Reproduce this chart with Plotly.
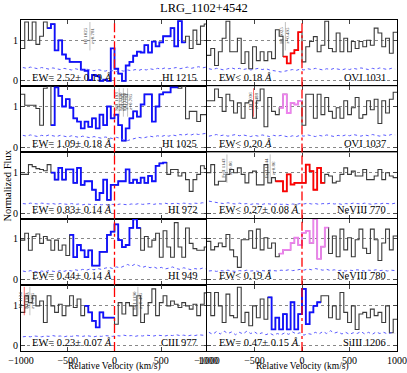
import numpy as np
import plotly.graph_objects as go


W, H = 407, 373
FONT = "Liberation Serif"

BLUE = "#1010ff"
RED = "#ff0000"
PINK = "#ee82ee"
SPEC = "#3a3a3a"
ERRC = "#5a5aff"

TITLE = "LRG_1102+4542"

# velocity bins (km/s)
BIN_WIDTH = 40
VEL_EDGES = np.arange(-1000, 1001, BIN_WIDTH)
VEL_CENTERS = VEL_EDGES[:-1] + BIN_WIDTH / 2

ions = ["HI 1215", "HI 1025", "HI 972", "HI 949", "CIII 977",
        "OVI 1031", "OVI 1037", "NeVIII 770", "NeVIII 780", "SiIII 1206"]

ew_labels = ["EW= 2.52± 0.19 <i>Å</i>", "EW= 1.09± 0.18 <i>Å</i>",
             "EW= 0.83± 0.14 <i>Å</i>", "EW= 0.44± 0.14 <i>Å</i>",
             "EW= 0.23± 0.07 <i>Å</i>", "EW< 0.18 <i>Å</i>",
             "EW< 0.20 <i>Å</i>", "EW< 0.27± 0.08 <i>Å</i>",
             "EW< 0.19 <i>Å</i>", "EW= 0.47± 0.15 <i>Å</i>"]

# velocity window of the highlighted component
comp_lo = [-710, -680, -690, -460, -333, -193, -228, -263, -235, -351]
comp_hi = [740, 690, 545, 294, -15, -18, -18, 245, 291, 210]
comp_colors = [BLUE, BLUE, BLUE, BLUE, BLUE, RED, PINK, RED, PINK, BLUE]

flux_hi1215 = [0.80, 1.45, 1.00, 1.45, 0.90, 1.10, 1.45, 1.30, 1.40, 0.75,
               1.00, 0.65, 0.55, 0.47, 0.47, 0.47, 0.28, 0.25, 0.02, 0.15,
               0.12, 0.00, 0.03, 0.00, 0.80, 0.30, 0.18, 0.00, 0.38, 0.47,
               0.62, 0.72, 0.70, 0.88, 0.70, 0.97, 0.85, 0.95, 1.10, 1.10,
               1.30, 0.85, 1.47, 0.95, 1.10, 0.80, 1.25, 0.90, 1.35, 1.40]
flux_hi1025 = [1.30, 1.03, 1.03, 1.03, 0.95, 0.54, 1.45, 1.50, 0.54, 1.47,
               1.26, 1.00, 1.18, 0.97, 0.71, 0.63, 0.46, 0.63, 0.50, 0.71,
               0.46, 0.80, 0.54, 1.00, 0.71, 0.80, 0.54, 0.16, 0.46, 0.71,
               0.88, 0.75, 1.05, 1.30, 1.30, 0.63, 1.00, 1.30, 1.35, 1.35,
               1.47, 1.47, 1.45, 1.50, 0.70, 0.88, 0.88, 0.63, 0.80, 0.80]
flux_hi972 = [0.96, 0.96, 1.20, 1.15, 1.10, 1.08, 1.05, 1.20, 1.00, 0.83,
              1.12, 0.83, 1.08, 1.08, 0.75, 1.12, 0.70, 0.79, 0.79, 0.58,
              0.33, 0.50, 0.83, 0.33, 0.70, 0.70, 0.79, 0.79, 1.08, 0.75,
              0.83, 0.75, 0.88, 0.75, 0.92, 0.79, 1.17, 1.23, 1.25, 0.96,
              1.08, 1.08, 0.92, 1.00, 0.83, 0.54, 0.83, 0.96, 1.17, 1.10]
flux_hi949 = [0.97, 1.14, 0.72, 1.06, 1.12, 0.89, 1.06, 0.97, 0.72, 0.97,
              0.72, 0.85, 0.59, 1.10, 0.55, 0.85, 0.72, 0.55, 0.72, 0.34,
              0.34, 0.68, 0.68, 1.10, 1.18, 1.36, 0.97, 0.80, 0.85, 1.27,
              1.48, 1.27, 0.72, 1.06, 0.80, 0.97, 1.14, 0.55, 1.20, 0.80,
              0.55, 1.40, 0.80, 0.55, 1.27, 0.89, 0.76, 0.72, 0.72, 0.80]
flux_ciii977 = [0.82, 1.23, 1.06, 1.23, 0.98, 1.10, 0.57, 1.23, 0.98, 0.82,
                1.02, 0.74, 0.98, 1.23, 0.94, 1.15, 0.74, 0.98, 0.82, 0.61,
                0.45, 0.82, 0.69, 0.69, 0.69, 0.53, 1.06, 0.78, 1.06, 0.98,
                0.74, 1.23, 0.57, 0.78, 1.06, 1.40, 0.74, 1.06, 1.23, 0.98,
                1.10, 1.02, 0.94, 1.06, 0.98, 0.90, 1.02, 0.74, 1.02, 1.30]
flux_ovi1031 = [0.63, 0.80, 0.38, 0.72, 1.05, 1.47, 0.72, 0.72, 1.05, 0.43,
                0.72, 0.30, 0.84, 0.50, 0.72, 0.50, 0.72, 0.55, 1.26, 1.10,
                0.60, 0.43, 0.68, 0.76, 1.20, 0.47, 0.84, 0.97, 1.09, 0.72,
                0.88, 1.47, 0.80, 0.72, 1.18, 0.72, 1.05, 0.72, 0.97, 0.80,
                0.97, 0.84, 1.00, 0.88, 1.30, 1.18, 0.84, 1.05, 0.68, 1.20]
flux_ovi1037 = [1.14, 1.14, 1.43, 1.22, 0.88, 1.30, 1.14, 0.84, 1.09, 0.71,
                1.09, 1.14, 0.71, 1.14, 1.43, 0.50, 1.22, 0.88, 0.80, 0.97,
                1.30, 0.84, 1.09, 1.05, 1.14, 0.54, 1.30, 1.30, 0.71, 1.30,
                0.80, 1.22, 0.88, 0.71, 0.97, 0.71, 1.14, 0.80, 0.97, 1.22,
                0.71, 0.80, 1.14, 0.92, 1.18, 0.58, 1.14, 0.84, 1.18, 1.35]
flux_neviii770 = [1.00, 1.20, 0.70, 0.79, 0.79, 0.96, 1.08, 1.00, 1.12, 0.96,
                  0.75, 1.00, 1.04, 0.70, 0.70, 1.20, 0.75, 0.88, 0.79, 0.79,
                  0.54, 0.96, 0.71, 0.75, 0.75, 0.75, 1.20, 1.04, 0.58, 1.12,
                  0.75, 0.96, 0.92, 0.75, 0.79, 0.96, 1.12, 0.96, 1.04, 0.92,
                  0.92, 1.08, 0.83, 0.83, 0.92, 1.08, 0.83, 1.00, 0.92, 0.88]
flux_neviii780 = [0.94, 0.73, 0.81, 0.90, 0.81, 1.11, 0.73, 0.56, 0.30, 0.98,
                  0.98, 1.20, 0.77, 1.24, 0.73, 1.03, 0.77, 0.90, 0.56, 0.64,
                  0.73, 0.73, 0.90, 1.03, 0.85, 1.15, 1.20, 0.90, 1.50, 0.51,
                  0.81, 1.28, 0.64, 1.07, 0.56, 1.24, 0.73, 1.03, 0.56, 0.98,
                  1.24, 0.77, 0.64, 1.24, 0.98, 0.47, 0.90, 1.24, 0.73, 1.07]
flux_siiii1206 = [1.31, 0.74, 1.31, 0.98, 0.57, 1.27, 0.74, 0.69, 1.44, 0.57,
                  0.82, 0.49, 0.98, 0.69, 1.15, 0.65, 1.19, 0.40, 0.69, 0.40,
                  0.78, 0.40, 1.07, 0.40, 0.78, 1.40, 0.53, 0.82, 0.98, 1.07,
                  1.23, 1.23, 0.69, 0.98, 0.65, 1.31, 0.82, 0.57, 0.98, 0.40,
                  0.78, 0.82, 0.69, 0.90, 0.74, 0.82, 0.57, 0.98, 0.32, 0.65]

err_hi1215 = [0.33, 0.31, 0.34, 0.32, 0.30, 0.33, 0.31, 0.29, 0.32, 0.30,
              0.28, 0.31, 0.29, 0.27, 0.30, 0.28, 0.26, 0.29, 0.27, 0.25,
              0.28, 0.26, 0.24, 0.27, 0.25, 0.23, 0.26, 0.24, 0.27, 0.25,
              0.28, 0.26, 0.29, 0.27, 0.30, 0.28, 0.31, 0.29, 0.32, 0.30,
              0.31, 0.33, 0.30, 0.32, 0.34, 0.31, 0.33, 0.35, 0.32, 0.34]
err_hi1025 = [0.29, 0.27, 0.30, 0.28, 0.26, 0.29, 0.27, 0.30, 0.28, 0.26,
              0.29, 0.27, 0.25, 0.28, 0.26, 0.24, 0.27, 0.25, 0.23, 0.26,
              0.24, 0.22, 0.25, 0.23, 0.21, 0.24, 0.22, 0.17, 0.16, 0.19,
              0.21, 0.24, 0.22, 0.25, 0.27, 0.25, 0.28, 0.26, 0.29, 0.27,
              0.30, 0.28, 0.31, 0.29, 0.32, 0.30, 0.33, 0.31, 0.32, 0.34]
err_hi972 = [0.24, 0.23, 0.25, 0.24, 0.23, 0.25, 0.24, 0.23, 0.24, 0.22,
             0.24, 0.23, 0.22, 0.24, 0.22, 0.23, 0.21, 0.23, 0.22, 0.21,
             0.22, 0.21, 0.22, 0.20, 0.22, 0.21, 0.23, 0.22, 0.21, 0.23,
             0.22, 0.24, 0.22, 0.23, 0.24, 0.22, 0.24, 0.23, 0.25, 0.23,
             0.24, 0.25, 0.23, 0.25, 0.24, 0.23, 0.25, 0.24, 0.26, 0.25]
err_hi949 = [0.21, 0.19, 0.22, 0.20, 0.18, 0.21, 0.19, 0.22, 0.20, 0.19,
             0.22, 0.20, 0.23, 0.21, 0.24, 0.22, 0.25, 0.23, 0.26, 0.24,
             0.27, 0.25, 0.28, 0.30, 0.27, 0.31, 0.29, 0.34, 0.37, 0.33,
             0.38, 0.34, 0.30, 0.33, 0.29, 0.31, 0.27, 0.30, 0.26, 0.28,
             0.31, 0.27, 0.25, 0.29, 0.26, 0.24, 0.27, 0.25, 0.28, 0.26]
err_ciii977 = [0.22, 0.23, 0.22, 0.24, 0.23, 0.22, 0.24, 0.23, 0.25, 0.23,
               0.24, 0.22, 0.24, 0.23, 0.25, 0.24, 0.23, 0.25, 0.24, 0.22,
               0.24, 0.23, 0.25, 0.24, 0.23, 0.25, 0.24, 0.26, 0.24, 0.25,
               0.23, 0.25, 0.24, 0.26, 0.25, 0.24, 0.26, 0.25, 0.24, 0.26,
               0.25, 0.27, 0.25, 0.26, 0.24, 0.26, 0.25, 0.27, 0.26, 0.25]
err_ovi1031 = [0.30, 0.28, 0.31, 0.29, 0.27, 0.30, 0.32, 0.29, 0.31, 0.28,
               0.30, 0.27, 0.29, 0.31, 0.28, 0.30, 0.27, 0.25, 0.23, 0.22,
               0.24, 0.26, 0.28, 0.26, 0.29, 0.27, 0.30, 0.28, 0.31, 0.29,
               0.27, 0.30, 0.28, 0.31, 0.29, 0.27, 0.30, 0.28, 0.31, 0.29,
               0.32, 0.30, 0.28, 0.31, 0.29, 0.32, 0.30, 0.28, 0.31, 0.29]
err_ovi1037 = [0.27, 0.29, 0.31, 0.28, 0.30, 0.27, 0.29, 0.31, 0.28, 0.30,
               0.28, 0.26, 0.29, 0.27, 0.30, 0.28, 0.26, 0.29, 0.27, 0.29,
               0.27, 0.25, 0.28, 0.26, 0.29, 0.27, 0.30, 0.28, 0.26, 0.29,
               0.27, 0.30, 0.28, 0.26, 0.29, 0.27, 0.30, 0.28, 0.31, 0.29,
               0.27, 0.30, 0.28, 0.31, 0.29, 0.27, 0.30, 0.28, 0.31, 0.30]
err_neviii770 = [0.30, 0.28, 0.26, 0.25, 0.24, 0.26, 0.24, 0.23, 0.25, 0.23,
                 0.24, 0.22, 0.24, 0.23, 0.22, 0.24, 0.23, 0.22, 0.24, 0.22,
                 0.23, 0.21, 0.23, 0.22, 0.24, 0.23, 0.25, 0.23, 0.24, 0.22,
                 0.24, 0.23, 0.25, 0.23, 0.24, 0.22, 0.24, 0.23, 0.25, 0.24,
                 0.23, 0.25, 0.24, 0.22, 0.24, 0.23, 0.25, 0.24, 0.23, 0.25]
err_neviii780 = [0.21, 0.22, 0.20, 0.22, 0.21, 0.23, 0.21, 0.20, 0.22, 0.21,
                 0.23, 0.21, 0.22, 0.20, 0.22, 0.21, 0.23, 0.22, 0.21, 0.23,
                 0.22, 0.24, 0.22, 0.23, 0.25, 0.23, 0.26, 0.24, 0.27, 0.25,
                 0.23, 0.25, 0.22, 0.24, 0.22, 0.23, 0.21, 0.23, 0.22, 0.24,
                 0.22, 0.21, 0.23, 0.22, 0.24, 0.22, 0.23, 0.21, 0.23, 0.22]
err_siiii1206 = [0.33, 0.28, 0.35, 0.29, 0.36, 0.30, 0.34, 0.27, 0.33, 0.29,
                 0.36, 0.30, 0.34, 0.28, 0.32, 0.27, 0.31, 0.26, 0.30, 0.27,
                 0.32, 0.28, 0.34, 0.29, 0.32, 0.26, 0.30, 0.28, 0.33, 0.29,
                 0.35, 0.30, 0.37, 0.31, 0.34, 0.29, 0.33, 0.28, 0.32, 0.30,
                 0.35, 0.29, 0.33, 0.28, 0.34, 0.30, 0.33, 0.29, 0.32, 0.30]

fluxes = [flux_hi1215, flux_hi1025, flux_hi972, flux_hi949, flux_ciii977,
          flux_ovi1031, flux_ovi1037, flux_neviii770, flux_neviii780, flux_siiii1206]
errors = [err_hi1215, err_hi1025, err_hi972, err_hi949, err_ciii977,
          err_ovi1031, err_ovi1037, err_neviii770, err_neviii780, err_siiii1206]

# small line-identification tags (panel, velocity, text, marker colour)
tag_panel = [0, 1, 1, 1, 4, 4, 4, 5, 6, 7, 7]
tag_vel = [-263, 50, 95, 140, -965, -905, 250, -175, -510, -790, -335]
tag_text = ["HI 1025<br>z=0.781", "SiII 1193<br>z=0.783", "SiII 1190<br>z=0.784",
            "SiII 1190<br>z=0.785", "NI 1134<br>z=0.485", "NI 1135<br>z=0.485",
            "SiII 1190<br>z=0.485", "HI 1025<br>z=0.495", "CII 1036<br>z=0.488",
            "FeII 1143<br>z=0.86", "FeII 1144<br>z=0.86"]
tag_line = ["#999", "#999", "#999", "#999", RED, "#999", "#999", "#999", RED, "#999", "#999"]

YR = [-0.13, 1.5]
TOP, BOT = 20, 351
PANEL_H = (BOT - TOP) / 5
COL_X = [(21, 208), (207, 397)]


fig = go.Figure()
layout = {}

for k in range(10):
    col, row = divmod(k, 5)
    n = k + 1
    xa = "x" if n == 1 else f"x{n}"
    ya = "y" if n == 1 else f"y{n}"

    y_top = TOP + row * PANEL_H
    y_bot = y_top + PANEL_H
    x0, x1 = COL_X[col]

    vals = list(fluxes[k])
    fig.add_trace(go.Scatter(
        x=VEL_EDGES, y=vals + [vals[-1]], mode="lines", line_shape="hv",
        line=dict(color=SPEC, width=1.1), xaxis=xa, yaxis=ya, hoverinfo="skip"))

    sel = [i for i, v in enumerate(VEL_CENTERS) if comp_lo[k] <= v <= comp_hi[k]]
    i0, i1 = sel[0], sel[-1]
    seg = vals[i0:i1 + 1]
    fig.add_trace(go.Scatter(
        x=VEL_EDGES[i0:i1 + 2], y=seg + [seg[-1]], mode="lines", line_shape="hv",
        line=dict(color=comp_colors[k], width=1.8), xaxis=xa, yaxis=ya, hoverinfo="skip"))

    fig.add_trace(go.Scatter(
        x=VEL_CENTERS, y=errors[k], mode="lines",
        line=dict(color=ERRC, width=1, dash="dot"), xaxis=xa, yaxis=ya, hoverinfo="skip"))

    layout["xaxis" if n == 1 else f"xaxis{n}"] = dict(
        domain=[x0 / W, x1 / W], anchor=ya, range=[-1000, 1000],
        tickvals=[-1000, -500, 0, 500, 1000],
        ticktext=["\u22121000", "\u2212500", "0", "500", "1000"],
        showticklabels=(row == 4), ticks="inside", ticklen=4,
        showline=True, linecolor="black", linewidth=1.2, mirror="ticks",
        showgrid=False, zeroline=False, automargin=False,
        tickfont=dict(family=FONT, size=10, color="black"))
    layout["yaxis" if n == 1 else f"yaxis{n}"] = dict(
        domain=[1 - y_bot / H, 1 - y_top / H], anchor=xa, range=YR,
        tickvals=[0, 1], showticklabels=(col == 0), ticks="inside", ticklen=4,
        showline=True, linecolor="black", linewidth=1.2, mirror="ticks",
        showgrid=True, gridcolor="#888", griddash="dot", gridwidth=1,
        zeroline=False, automargin=False,
        tickfont=dict(family=FONT, size=10, color="black"))

    fig.add_shape(type="line", xref=xa, yref=f"{ya} domain", x0=0, x1=0, y0=0, y1=1,
                  line=dict(color=RED, width=1.3, dash="dashdot"))

    fig.add_annotation(x=-900, y=0.09, xref=xa, yref=ya, text=ew_labels[k],
                       showarrow=False, xanchor="left", yanchor="middle",
                       font=dict(family=FONT, size=10.5, color="black"))
    fig.add_annotation(x=900, y=0.09, xref=xa, yref=ya, text=ions[k],
                       showarrow=False, xanchor="right", yanchor="middle",
                       font=dict(family=FONT, size=10.5, color="black"))

for p, v, t, c in zip(tag_panel, tag_vel, tag_text, tag_line):
    n = p + 1
    xa = "x" if n == 1 else f"x{n}"
    ya = "y" if n == 1 else f"y{n}"
    fig.add_shape(type="line", xref=xa, yref=ya, x0=v, x1=v, y0=0.75, y1=1.45,
                  line=dict(color=c, width=0.6))
    fig.add_annotation(x=v, y=1.12, xref=xa, yref=ya, text=t, textangle=-90,
                       showarrow=False, font=dict(family=FONT, size=5, color="#333"))

fig.add_annotation(x=0.5, y=1 - 8 / H, xref="paper", yref="paper", text=TITLE,
                   showarrow=False, xanchor="center", yanchor="middle",
                   font=dict(family=FONT, size=12.5, color="black"))
for x0, x1 in COL_X:
    fig.add_annotation(x=(x0 + x1) / 2 / W, y=0, xref="paper", yref="paper",
                       text="Relative Velocity (km/s)", showarrow=False,
                       xanchor="center", yanchor="bottom", borderpad=0,
                       font=dict(family=FONT, size=9.5, color="black"))
fig.add_annotation(x=7 / W, y=1 - (TOP + BOT) / 2 / H, xref="paper", yref="paper",
                   text="Normalized Flux", textangle=-90, showarrow=False,
                   xanchor="center", yanchor="middle",
                   font=dict(family=FONT, size=10.5, color="black"))

fig.update_layout(
    width=W, height=H,
    margin=dict(l=0, r=0, t=0, b=0, autoexpand=False),
    paper_bgcolor="white", plot_bgcolor="white",
    showlegend=False,
    **layout,
)

fig.write_html("out.html", config={"displayModeBar": False},
               post_script="document.body.style.margin='0';")
